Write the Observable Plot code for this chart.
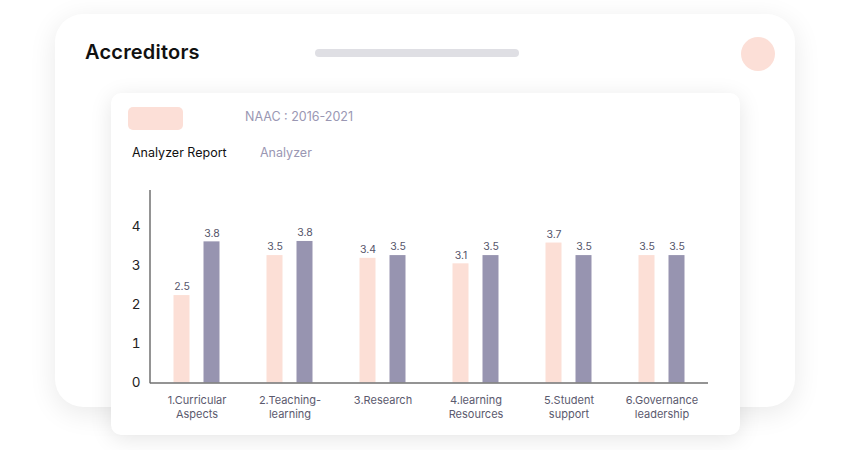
<!DOCTYPE html>
<html>
<head>
<meta charset="utf-8">
<script src="https://cdn.jsdelivr.net/npm/d3@7"></script>
<script src="https://cdn.jsdelivr.net/npm/@observablehq/plot@0.6"></script>
<style>
  html, body { margin: 0; padding: 0; background: #ffffff; }
  body { width: 850px; height: 450px; position: relative; overflow: hidden; font-family: Inter, "Open Sans", sans-serif; }
  .outer { position: absolute; left: 55px; top: 14px; width: 740px; height: 393px; background: #fff; border-radius: 28px; box-shadow: 0 6px 28px rgba(0,0,0,0.09); }
  .title { position: absolute; left: 85px; top: 40px; font-size: 20px; font-weight: 600; color: #111; line-height: 24px; letter-spacing: 0.2px; }
  .pill { position: absolute; left: 315px; top: 49px; width: 204px; height: 8px; border-radius: 4px; background: #dfdfe4; }
  .dot { position: absolute; left: 741px; top: 37px; width: 34px; height: 34px; border-radius: 50%; background: #fcdfd7; }
  .inner { position: absolute; left: 111px; top: 93px; width: 629px; height: 342px; background: #fff; border-radius: 10px; box-shadow: 0 4px 22px rgba(0,0,0,0.10); }
  .tag { position: absolute; left: 128px; top: 107px; width: 55px; height: 23px; border-radius: 5px; background: #fcdfd7; }
  .naac { position: absolute; left: 245px; top: 109px; font-size: 12.5px; color: #9a97b3; line-height: 16px; }
  .tab1 { position: absolute; left: 132px; top: 145px; font-size: 12.5px; color: #111; line-height: 16px; }
  .tab2 { position: absolute; left: 260px; top: 145px; font-size: 12.5px; color: #9a97b3; line-height: 16px; }
  #chart { position: absolute; left: 111px; top: 170px; }
</style>
</head>
<body>
<div class="outer"></div>
<div class="title">Accreditors</div>
<div class="pill"></div>
<div class="dot"></div>
<div class="inner"></div>
<div class="tag"></div>
<div class="naac">NAAC : 2016-2021</div>
<div class="tab1">Analyzer Report</div>
<div class="tab2">Analyzer</div>
<div id="chart"></div>
<script>
const categories = ["1.Curricular Aspects", "2.Teaching-learning", "3.Research", "4.learning Resources", "5.Student support", "6.Governance leadership"];
const tickLabels = ["1.Curricular\nAspects", "2.Teaching-\nlearning", "3.Research", "4.learning\nResources", "5.Student\nsupport", "6.Governance\nleadership"];
const series = ["Analyzer Report", "Analyzer"];
const reportBarHeights = [2.23, 3.25, 3.18, 3.04, 3.57, 3.25];
const analyzerBarHeights = [3.6, 3.61, 3.25, 3.25, 3.25, 3.25];
const reportLabels = ["2.5", "3.5", "3.4", "3.1", "3.7", "3.5"];
const analyzerLabels = ["3.8", "3.8", "3.5", "3.5", "3.5", "3.5"];
const yTicks = [0, 1, 2, 3, 4];
const yMax = 4.91;
const colors = ["#fcdfd6", "#9794b0"];

const reportRows = categories.map((c, i) => ({category: c, series: series[0], value: reportBarHeights[i], label: reportLabels[i]}));
const analyzerRows = categories.map((c, i) => ({category: c, series: series[1], value: analyzerBarHeights[i], label: analyzerLabels[i]}));

// y-axis line drawn through the y scale
function yAxisLine(index, scales, values, dimensions) {
  return d3.create("svg:line")
    .attr("x1", dimensions.marginLeft).attr("x2", dimensions.marginLeft)
    .attr("y1", scales.y(0) + 0.75).attr("y2", scales.y(yMax))
    .attr("stroke", "#707070").attr("stroke-width", 1.5)
    .node();
}

const chart = Plot.plot({
  width: 629,
  height: 260,
  marginTop: 20,
  marginBottom: 47.5,
  marginLeft: 39,
  marginRight: 32,
  style: {fontFamily: "Inter, 'Open Sans', sans-serif", background: "transparent"},
  x: {domain: categories, padding: 0, axis: null},
  y: {domain: [0, yMax], axis: null},
  color: {domain: series, range: colors},
  marks: [
    Plot.axisY({ticks: yTicks, tickFormat: "d", tickSize: 0, tickPadding: 10, label: null, fontSize: 13.5, fill: "#222"}),
    Plot.axisX({anchor: "bottom", tickSize: 0, tickPadding: 11, label: null, fontSize: 11, fill: "#5b5a6e", lineHeight: 1.3,
      tickFormat: d => tickLabels[categories.indexOf(d)]}),
    Plot.barY(reportRows, {x: "category", y: "value", fill: "series", insetLeft: 23.5, insetRight: 53.5}),
    Plot.barY(analyzerRows, {x: "category", y: "value", fill: "series", insetLeft: 53.5, insetRight: 23.5}),
    Plot.ruleY([0], {stroke: "#707070", strokeWidth: 1.5}),
    yAxisLine,
    Plot.text(reportRows, {x: "category", y: "value", text: "label", dx: -15, dy: -8.5, fontSize: 10.5, fill: "#55546a"}),
    Plot.text(analyzerRows, {x: "category", y: "value", text: "label", dx: 15, dy: -8.5, fontSize: 10.5, fill: "#55546a"})
  ]
});
document.getElementById("chart").appendChild(chart);
</script>
</body>
</html>
